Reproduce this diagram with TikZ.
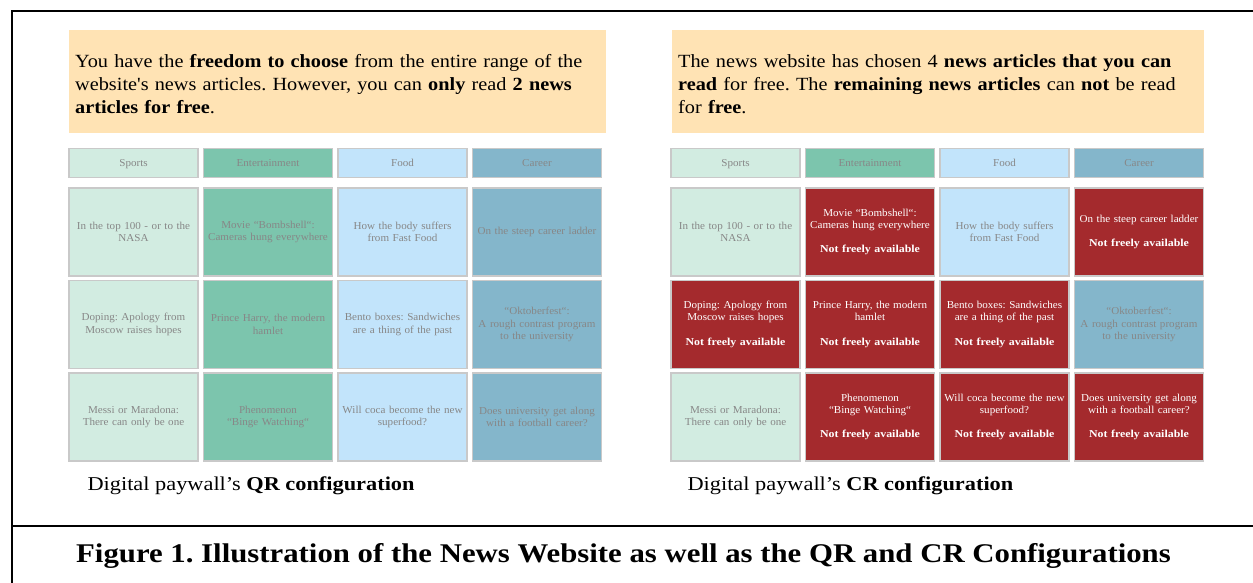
\documentclass[tikz,border=0pt]{standalone}
\usepackage{fontspec}
\setmainfont{Liberation Serif}
% broader cuts of the same serif for the texts and captions
\newfontfamily\widefont[FakeStretch=1.09]{Liberation Serif}
\newfontfamily\capfont[FakeStretch=1.14]{Liberation Serif}
\newfontfamily\cellfont[FakeStretch=1.045, BoldFeatures={FakeStretch=1.12}]{Liberation Serif}
\frenchspacing

\definecolor{infofill}{HTML}{FFE3B4}
\definecolor{sportsc}{HTML}{D2ECE1}
\definecolor{entc}{HTML}{7CC5AD}
\definecolor{foodc}{HTML}{C2E4FB}
\definecolor{careerc}{HTML}{84B6CB}
\definecolor{paidred}{HTML}{A42A2D}
\definecolor{cellline}{HTML}{C9C9C9}
\definecolor{celltext}{HTML}{878787}

\begin{document}
\begin{tikzpicture}[x=1pt,y=-1pt,
  cell/.style={draw=cellline, line width=1.2pt, minimum width=129pt,
    minimum height=88pt, inner xsep=1pt, inner ysep=0pt, text width=127pt,
    align=center, text=celltext, font=\cellfont\fontsize{10.6}{12.3}\selectfont},
  head/.style={cell, minimum height=29pt, text depth=0pt},
  sp/.style={fill=sportsc},
  en/.style={fill=entc},
  fo/.style={fill=foodc},
  ca/.style={fill=careerc},
  paid/.style={fill=paidred, text=white},
  infobox/.style={minimum height=103pt, inner xsep=6pt,
    align=left, font=\widefont\fontsize{18.6}{22.8}\selectfont},
  infobg/.style={fill=infofill, minimum height=103pt, inner sep=0pt},
  subcap/.style={anchor=west, font=\capfont\fontsize{19.6}{22}\selectfont},
  frameline/.style={line width=2pt, black}]

\useasboundingbox (0,0) rectangle (1253,583);
\fill[white] (0,0) rectangle (1253,583);

% outer frame and caption separator
\coordinate (tl) at (12,11);
\coordinate (tr) at (1253,11);
\coordinate (bl) at (12,583);
\coordinate (ml) at (12,526);
\coordinate (mr) at (1253,526);
\draw[frameline] (tr) -- (tl) -- (bl);
\draw[frameline] (ml) -- (mr);

% yellow backgrounds behind the explanatory texts
\node[infobg, minimum width=537pt] (qr-bg) at (337.5,81.5) {};
\node[infobg, minimum width=532pt] (cr-bg) at (938,81.5) {};

% ---------- QR configuration (left) ----------
\node[infobox, anchor=west, text width=530pt] (qr-info) at (69,84)
  {You have the \textbf{freedom to choose} from the entire range of the\\
   website's news articles. However, you can \textbf{only} read \textbf{2 news}\\
   \textbf{articles for free}.};

\node[head,sp] (qr-h1) at (133.5,163) {Sports};
\node[head,en] (qr-h2) at (268,163) {Entertainment};
\node[head,fo] (qr-h3) at (402.5,163) {Food};
\node[head,ca] (qr-h4) at (537,163) {Career};

\node[cell,sp] (qr-a1) at (133.5,232) {In the top 100 - or to the\\NASA};
\node[cell,en] (qr-a2) at (268,232) {Movie “Bombshell“:\\Cameras hung everywhere};
\node[cell,fo] (qr-a3) at (402.5,232) {How the body suffers\\from Fast Food};
\node[cell,ca] (qr-a4) at (537,232) {On the steep career ladder};

\node[cell,sp] (qr-b1) at (133.5,324.5) {Doping: Apology from\\Moscow raises hopes};
\node[cell,en] (qr-b2) at (268,324.5) {Prince Harry, the modern\\hamlet};
\node[cell,fo] (qr-b3) at (402.5,324.5) {Bento boxes: Sandwiches\\are a thing of the past};
\node[cell,ca] (qr-b4) at (537,324.5) {“Oktoberfest“:\\A rough contrast program\\to the university};

\node[cell,sp] (qr-c1) at (133.5,417) {Messi or Maradona:\\There can only be one};
\node[cell,en] (qr-c2) at (268,417) {Phenomenon\\“Binge Watching“};
\node[cell,fo] (qr-c3) at (402.5,417) {Will coca become the new\\superfood?};
\node[cell,ca] (qr-c4) at (537,417) {Does university get along\\with a football career?};

\node[subcap] (qr-cap) at (84,486) {Digital paywall’s \textbf{QR configuration}};

% ---------- CR configuration (right) ----------
\node[infobox, anchor=west, text width=525pt] (cr-info) at (672,84)
  {The news website has chosen 4 \textbf{news articles that you can}\\
   \textbf{read} for free. The \textbf{remaining news articles} can \textbf{not} be read\\
   for \textbf{free}.};

\node[head,sp] (cr-h1) at (735.5,163) {Sports};
\node[head,en] (cr-h2) at (870,163) {Entertainment};
\node[head,fo] (cr-h3) at (1004.5,163) {Food};
\node[head,ca] (cr-h4) at (1139,163) {Career};

\node[cell,sp] (cr-a1) at (735.5,232) {In the top 100 - or to the\\NASA};
\node[cell,paid] (cr-a2) at (870,232) {Movie “Bombshell“:\\Cameras hung everywhere\\[12.3pt]\textbf{Not freely available}};
\node[cell,fo] (cr-a3) at (1004.5,232) {How the body suffers\\from Fast Food};
\node[cell,paid] (cr-a4) at (1139,232) {On the steep career ladder\\[12.3pt]\textbf{Not freely available}};

\node[cell,paid] (cr-b1) at (735.5,324.5) {Doping: Apology from\\Moscow raises hopes\\[12.3pt]\textbf{Not freely available}};
\node[cell,paid] (cr-b2) at (870,324.5) {Prince Harry, the modern\\hamlet\\[12.3pt]\textbf{Not freely available}};
\node[cell,paid] (cr-b3) at (1004.5,324.5) {Bento boxes: Sandwiches\\are a thing of the past\\[12.3pt]\textbf{Not freely available}};
\node[cell,ca] (cr-b4) at (1139,324.5) {“Oktoberfest“:\\A rough contrast program\\to the university};

\node[cell,sp] (cr-c1) at (735.5,417) {Messi or Maradona:\\There can only be one};
\node[cell,paid] (cr-c2) at (870,417) {Phenomenon\\“Binge Watching“\\[12.3pt]\textbf{Not freely available}};
\node[cell,paid] (cr-c3) at (1004.5,417) {Will coca become the new\\superfood?\\[12.3pt]\textbf{Not freely available}};
\node[cell,paid] (cr-c4) at (1139,417) {Does university get along\\with a football career?\\[12.3pt]\textbf{Not freely available}};

\node[subcap] (cr-cap) at (684,486) {Digital paywall’s \textbf{CR configuration}};

% ---------- figure caption ----------
\node[font=\capfont\bfseries\fontsize{27}{30}\selectfont] (figcap) at (623.5,556)
  {Figure 1. Illustration of the News Website as well as the QR and CR Configurations};

\end{tikzpicture}
\end{document}
